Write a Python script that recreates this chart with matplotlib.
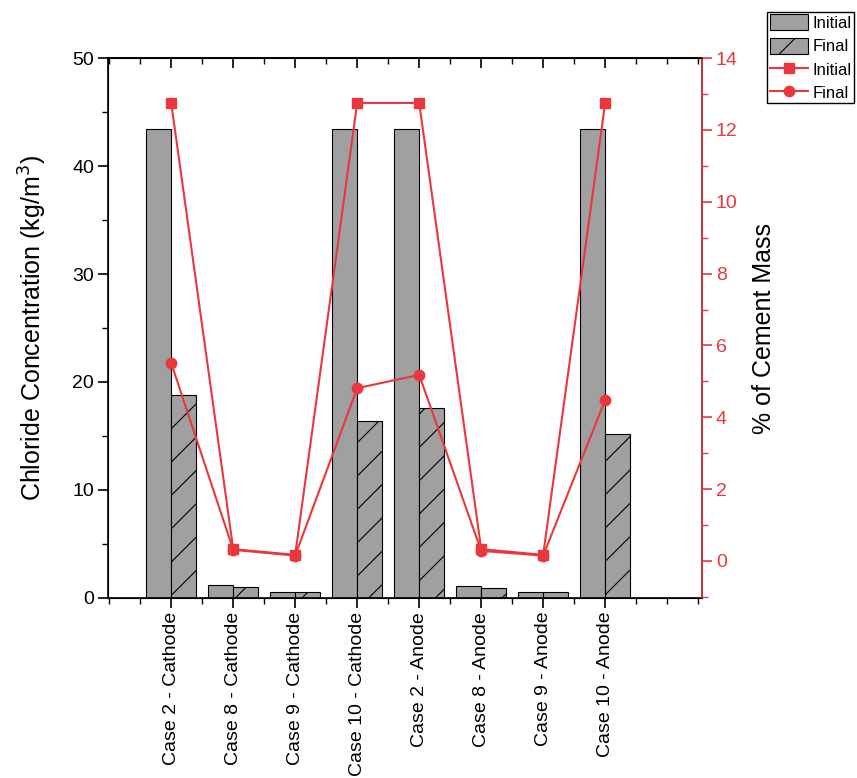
import matplotlib.pyplot as plt
from matplotlib.ticker import MultipleLocator

plt.rcParams['font.family'] = ['Liberation Sans', 'DejaVu Sans']
plt.rcParams['hatch.linewidth'] = 0.8

cases = ["Case 2 - Cathode", "Case 8 - Cathode", "Case 9 - Cathode", "Case 10 - Cathode",
         "Case 2 - Anode", "Case 8 - Anode", "Case 9 - Anode", "Case 10 - Anode"]

# chloride concentration, kg/m3
conc_initial = [43.4, 1.2, 0.55, 43.4, 43.4, 1.15, 0.55, 43.4]
conc_final = [18.8, 1.05, 0.55, 16.4, 17.6, 0.9, 0.55, 15.2]

# chloride as % of cement mass
pct_initial = [12.75, 0.33, 0.17, 12.75, 12.75, 0.33, 0.17, 12.75]
pct_final = [5.51, 0.31, 0.15, 4.81, 5.18, 0.28, 0.15, 4.48]

red = '#E8383D'
x = list(range(len(cases)))

fig = plt.figure(figsize=(8.57, 7.78), dpi=100)
ax = fig.add_axes([0.126, 0.2314, 0.693, 0.694])

w = 0.4
ax.bar([i - w / 2 for i in x], conc_initial, width=w, color='#A0A0A0',
       edgecolor='black', linewidth=0.8, label='Initial')
ax.bar([i + w / 2 for i in x], conc_final, width=w, color='#A0A0A0',
       edgecolor='black', linewidth=0.8, hatch='/', label='Final')

ax.set_xlim(-1.02, 8.56)
ax.set_ylim(0, 50)
ax.set_xticks(x)
ax.set_xticklabels(cases, rotation=90, fontsize=14)
ax.xaxis.set_minor_locator(MultipleLocator(0.5))
ax.yaxis.set_major_locator(MultipleLocator(10))
ax.yaxis.set_minor_locator(MultipleLocator(5))
ax.tick_params(axis='both', which='major', direction='out', length=7, width=1.2,
               labelsize=14, pad=3)
ax.tick_params(axis='both', which='minor', direction='out', length=4, width=1.0)
ax.set_ylabel("Chloride Concentration (kg/m$^3$)", fontsize=18, labelpad=17)
for s in ax.spines.values():
    s.set_linewidth(1.2)

# inward ticks along the top edge
top = ax.secondary_xaxis('top')
top.set_xticks(x)
top.xaxis.set_minor_locator(MultipleLocator(0.5))
top.tick_params(axis='x', which='major', direction='in', length=7, width=1.2, labeltop=False)
top.tick_params(axis='x', which='minor', direction='in', length=4, width=1.0)
top.spines['top'].set_linewidth(1.2)

ax2 = ax.twinx()
l1, = ax2.plot(x, pct_initial, color=red, marker='s', markersize=7.5, linewidth=1.5, label='Initial')
l2, = ax2.plot(x, pct_final, color=red, marker='o', markersize=7.5, linewidth=1.5, label='Final')
ax2.set_ylim(-1.03, 14)
ax2.yaxis.set_major_locator(MultipleLocator(2))
ax2.yaxis.set_minor_locator(MultipleLocator(1))
ax2.tick_params(axis='y', which='major', direction='out', length=7, width=1.2,
                colors=red, labelsize=14, pad=3)
ax2.tick_params(axis='y', which='minor', direction='out', length=4, width=1.0, colors=red)
ax2.spines['right'].set_color(red)
ax2.spines['right'].set_linewidth(1.2)
ax2.set_ylabel("% of Cement Mass", fontsize=18, labelpad=10)

h1, lab1 = ax.get_legend_handles_labels()
fig.legend(h1 + [l1, l2], lab1 + ['Initial', 'Final'], loc='upper left',
           bbox_to_anchor=(0.895, 0.985), fontsize=12, frameon=True, fancybox=False,
           edgecolor='black', framealpha=1, handlelength=2.3, handleheight=1.1,
           handletextpad=0.3, borderpad=0.15, labelspacing=0.4, borderaxespad=0)

fig.savefig("out.png", dpi=100)
